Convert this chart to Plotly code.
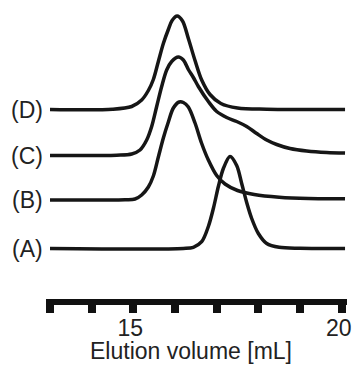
import plotly.graph_objects as go

# Elution volume (mL) and normalised signal
vol_A = [13.0, 16.2, 16.44, 16.64, 16.80, 16.92, 17.04, 17.16, 17.32, 17.48, 17.60, 17.72, 17.84, 18.0, 18.2, 18.5, 19.0, 20.08]
sig_A = [0.0, 0.0, 0.012, 0.068, 0.22, 0.40, 0.62, 0.80, 0.92, 0.83, 0.65, 0.46, 0.30, 0.15, 0.05, 0.012, 0.002, 0.0]

vol_B = [13.0, 14.8, 15.04, 15.2, 15.36, 15.48, 15.6, 15.72, 15.84, 15.96, 16.1, 16.2, 16.32, 16.48, 16.64, 16.8, 17.0, 17.2, 17.5, 17.9, 18.5, 19.2, 20.08]
sig_B = [0.0, 0.003, 0.01, 0.05, 0.13, 0.24, 0.43, 0.62, 0.78, 0.92, 0.98, 0.975, 0.93, 0.77, 0.565, 0.40, 0.245, 0.16, 0.095, 0.055, 0.028, 0.015, 0.012]

vol_C = [13.0, 14.6, 14.96, 15.16, 15.32, 15.44, 15.56, 15.68, 15.80, 15.92, 16.08, 16.2, 16.32, 16.44, 16.56, 16.8, 17.0, 17.24, 17.48, 17.72, 17.96, 18.2, 18.44, 18.76, 19.16, 19.64, 20.08]
sig_C = [0.0, 0.003, 0.015, 0.055, 0.155, 0.29, 0.49, 0.69, 0.855, 0.94, 0.985, 0.955, 0.86, 0.78, 0.69, 0.54, 0.44, 0.38, 0.34, 0.29, 0.22, 0.155, 0.11, 0.07, 0.045, 0.03, 0.025]

vol_D = [13.0, 14.5, 14.96, 15.2, 15.36, 15.48, 15.6, 15.72, 15.84, 15.93, 16.05, 16.18, 16.32, 16.48, 16.64, 16.84, 17.1, 17.5, 18.2, 19.0, 20.08]
sig_D = [0.0, 0.002, 0.03, 0.095, 0.19, 0.30, 0.48, 0.66, 0.80, 0.89, 0.935, 0.885, 0.71, 0.49, 0.295, 0.15, 0.06, 0.015, 0.003, 0.0, 0.0]

labels = ["(A)", "(B)", "(C)", "(D)"]
offsets = [0.0, 0.485, 0.93, 1.39]

tick_vals = [13, 14, 15, 16, 17, 18, 19, 20]
tick_text = ["", "", "15", "", "", "", "", "20"]
x_title = "Elution volume [mL]"

LINE = "#161616"
TEXT = "#222222"
FONT = "Liberation Sans, Arial, sans-serif"

fig = go.Figure()
series = [(vol_A, sig_A), (vol_B, sig_B), (vol_C, sig_C), (vol_D, sig_D)]
for (vx, sy), off, lab in zip(series, offsets, labels):
    fig.add_trace(go.Scatter(
        x=vx, y=[v + off for v in sy], mode="lines",
        line=dict(color=LINE, width=3.5, shape="spline", smoothing=0.9),
        name=lab, showlegend=False, hoverinfo="skip"))
    fig.add_annotation(x=13.0, y=off, xref="x", yref="y", text=lab,
                       showarrow=False, xanchor="right", yanchor="middle",
                       xshift=-5, font=dict(family=FONT, size=23, color=TEXT))

fig.add_annotation(x=0.482, y=0, xref="paper", yref="paper", text=x_title,
                   showarrow=False, xanchor="center", yanchor="top", yshift=-37,
                   font=dict(family=FONT, size=23, color=TEXT))

fig.update_layout(
    width=358, height=372,
    margin=dict(l=46, r=11, t=0, b=73),
    paper_bgcolor="white", plot_bgcolor="white",
    font=dict(family=FONT, size=23, color=TEXT),
    xaxis=dict(range=[12.904, 20.127], showgrid=False, zeroline=False,
               showline=True, linewidth=6, linecolor="#111111",
               ticks="outside", ticklen=8, tickwidth=8, tickcolor="#111111",
               tickvals=tick_vals, ticktext=tick_text, ticklabelstandoff=-5,
               ticklabelshift=-3, fixedrange=True,
               tickfont=dict(family=FONT, size=23, color=TEXT)),
    yaxis=dict(range=[-0.505, 2.485], visible=False, fixedrange=True),
)

fig.write_html("out.html",
               config={"displayModeBar": False, "staticPlot": True},
               post_script="document.body.style.margin='0';"
                           "document.body.style.overflow='hidden';")
